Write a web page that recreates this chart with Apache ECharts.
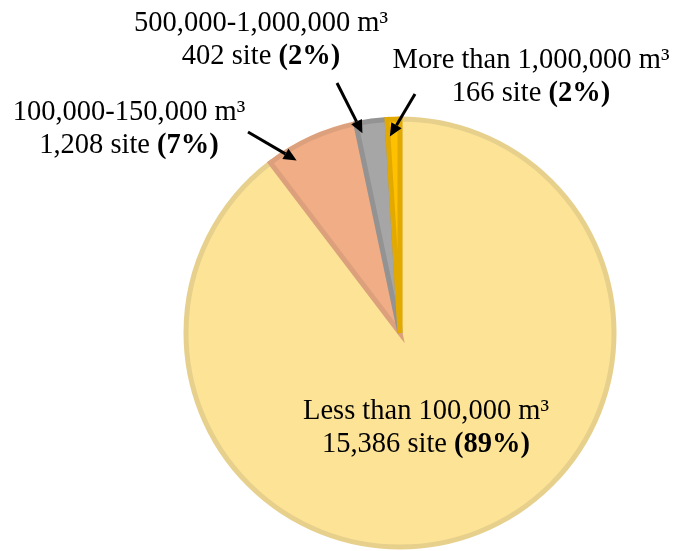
<!DOCTYPE html>
<html>
<head>
<meta charset="utf-8">
<title>Sites by volume class</title>
<script src="https://cdn.jsdelivr.net/npm/echarts@6/dist/echarts.min.js"></script>
<style>
  html, body { margin: 0; padding: 0; background: #ffffff; }
  #chart { width: 674px; height: 551px; }
</style>
</head>
<body>
<div id="chart"></div>
<script>
// Volume classes and number of sites in each
const categories = [
  'Less than 100,000 m³',
  '100,000-150,000 m³',
  '500,000-1,000,000 m³',
  'More than 1,000,000 m³'
];
const siteCounts = [15386, 1208, 402, 166];
const percentLabels = ['89%', '7%', '2%', '2%'];

// Slice fill and outline colours
const fillColors = ['#FDE396', '#F1AD85', '#A6A6A6', '#FFC000'];
const edgeColors = ['#E6D08C', '#DDA07D', '#939393', '#E2A900'];

// Where each label block sits (centre of the two-line block)
const labelPlacement = [
  { x: 426, y: 428 },
  { x: 129, y: 129 },
  { x: 261, y: 40 },
  { x: 531, y: 77 }
];

// Pointer arrows: tail point, and where the head lands inside the slice
// (fraction along the slice's sweep and fraction of the radius)
const arrows = [
  { index: 1, tail: [248, 132], sweep: 0.25, reach: 0.94 },
  { index: 2, tail: [337, 83], sweep: 0.15, reach: 0.95 },
  { index: 3, tail: [415, 94], sweep: 0.15, reach: 0.92 }
];

const fmt = n => n.toLocaleString('en-US');

const chart = echarts.init(document.getElementById('chart'), null, { renderer: 'canvas' });

const seriesData = categories.map((name, i) => ({
  name: name,
  value: siteCounts[i],
  itemStyle: { color: fillColors[i], borderColor: edgeColors[i] }
}));

const textBase = { fontFamily: 'Liberation Serif', fontSize: 28.5, color: '#000', lineHeight: 33 };

chart.setOption({
  animation: false,
  backgroundColor: '#ffffff',
  series: [{
    type: 'pie',
    center: [400, 333],
    radius: 214,
    startAngle: 90,
    clockwise: true,
    itemStyle: { borderWidth: 5, borderJoin: 'miter' },
    emphasis: { disabled: true },
    data: seriesData,
    label: Object.assign({
      show: true,
      position: 'outside',
      overflow: 'none',
      width: 400,
      formatter: p => '{n|' + categories[p.dataIndex] + '}\n{n|' + fmt(siteCounts[p.dataIndex]) + ' site }{b|(' + percentLabels[p.dataIndex] + ')}',
      rich: {
        n: Object.assign({}, textBase),
        b: Object.assign({ fontWeight: 'bold' }, textBase)
      }
    }, textBase),
    labelLine: { show: false },
    labelLayout: params => {
      const p = labelPlacement[params.dataIndex];
      return { x: p.x, y: p.y, align: 'center', verticalAlign: 'middle', hideOverlap: false, moveOverlap: false };
    }
  }]
});

// Build the pointer arrows from the laid-out slice geometry
const data = chart.getModel().getSeriesByIndex(0).getData();
const graphics = [];
arrows.forEach(a => {
  const lay = data.getItemLayout(a.index);
  const ang = lay.startAngle + (lay.endAngle - lay.startAngle) * a.sweep;
  const tip = [lay.cx + lay.r * a.reach * Math.cos(ang), lay.cy + lay.r * a.reach * Math.sin(ang)];
  const dx = tip[0] - a.tail[0], dy = tip[1] - a.tail[1];
  const len = Math.sqrt(dx * dx + dy * dy);
  const ux = dx / len, uy = dy / len;
  const headLen = 13, headHalf = 6;
  const base = [tip[0] - ux * headLen, tip[1] - uy * headLen];
  graphics.push({
    type: 'line',
    shape: { x1: a.tail[0], y1: a.tail[1], x2: base[0], y2: base[1] },
    style: { stroke: '#000', lineWidth: 3 },
    z: 100
  });
  graphics.push({
    type: 'polygon',
    shape: { points: [tip, [base[0] - uy * headHalf, base[1] + ux * headHalf], [base[0] + uy * headHalf, base[1] - ux * headHalf]] },
    style: { fill: '#000' },
    z: 100
  });
});
chart.setOption({ graphic: graphics });
</script>
</body>
</html>
